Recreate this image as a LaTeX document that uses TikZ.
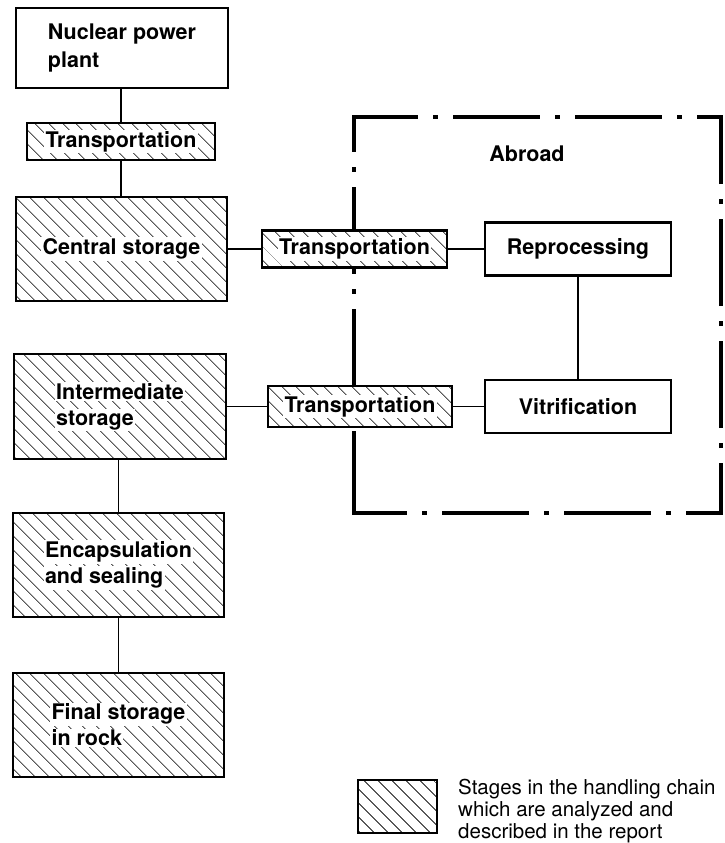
\documentclass[tikz,border=0pt]{standalone}
\usepackage{fontspec}
\usetikzlibrary{patterns.meta}
\newfontfamily\heros{TeX Gyre Heros}
\newcommand\whitetxt[1]{{\setlength{\fboxsep}{1.2pt}\colorbox{white}{#1}}}
\tikzset{
  boxbase/.style={draw, line width=2.2pt, inner sep=0pt,
    font=\heros\bfseries\fontsize{21.5}{26}\selectfont, align=left},
  plainbox/.style={boxbase, fill=white},
  hatchbox/.style={boxbase, preaction={fill=white},
    pattern={Lines[angle=-45,distance=10.5pt,line width=0.9pt]}},
  conn/.style={line width=1.3pt},
  abroadframe/.style={line width=4pt, line cap=butt,
    dash pattern=on 87pt off 15pt on 5pt off 15pt},
}
\begin{document}
\begin{tikzpicture}[x=1pt,y=-1pt]
\useasboundingbox (0,0) rectangle (724,843);
% frame
\coordinate (fTL) at (354,117);
\coordinate (fTR) at (721,117);
\coordinate (fBL) at (354,513);
\coordinate (fBR) at (721,513);
\draw[abroadframe, dash phase=21pt] ([xshift=-2pt]fTL) -- ([xshift=2pt]fTR);
\draw[abroadframe, dash phase=50pt] ([yshift=2pt]fTL) -- ([yshift=-2pt]fBL);
\draw[abroadframe, dash phase=32pt] ([xshift=-2pt]fBL) -- ([xshift=2pt]fBR);
\draw[abroadframe, dash phase=35pt] ([yshift=-2pt]fBR) -- ([yshift=2pt]fTR);
\node[font=\heros\bfseries\fontsize{21.5}{26}\selectfont] (abroad) at (527,154) {Abroad};
% boxes
\node[plainbox, minimum width=212pt, minimum height=80pt,
  font=\heros\bfseries\fontsize{21.5}{28}\selectfont] (npp) at (122,48) {Nuclear power\\plant};
\node[hatchbox, minimum width=188pt, minimum height=37pt] (t1) at (121,141.5) {\whitetxt{Transportation}};
\node[hatchbox, minimum width=211pt, minimum height=104pt] (cs) at (121.5,249) {\whitetxt{Central storage}};
\node[hatchbox, minimum width=185pt, minimum height=37pt] (t2) at (354.5,249) {\whitetxt{Transportation}};
\node[plainbox, minimum width=186pt, minimum height=53pt] (rep) at (578,249) {Reprocessing};
\node[plainbox, minimum width=186pt, minimum height=53pt] (vit) at (578,406.5) {Vitrification};
\node[hatchbox, minimum width=184pt, minimum height=41pt] (t3) at (360,406.5) {\whitetxt{Transportation}};
\node[hatchbox, minimum width=212pt, minimum height=105pt] (is) at (120,406.5) {\whitetxt{Intermediate}\\\whitetxt{storage}};
\node[hatchbox, minimum width=211pt, minimum height=104pt] (enc) at (118.5,565) {\whitetxt{Encapsulation}\\\whitetxt{and sealing}};
\node[hatchbox, minimum width=211pt, minimum height=104pt] (fin) at (118.5,725) {\whitetxt{Final storage}\\\whitetxt{in rock}};
% connectors
\draw[conn] (t1.north) -- (t1.north |- npp.south);
\draw[conn] (t1.south) -- (t1.south |- cs.north);
\draw[conn] (cs.east) -- (t2.west);
\draw[conn] (t2.east) -- (rep.west);
\draw[conn] (rep.south) -- (vit.north);
\draw[conn] (is.east) -- (t3.west);
\draw[conn] (t3.east) -- (vit.west);
\draw[conn] (enc.north) -- (enc.north |- is.south);
\draw[conn] (fin.north) -- (fin.north |- enc.south);
% legend
\node[hatchbox, minimum width=79pt, minimum height=53pt] (legbox) at (397.5,806.5) {};
\node[anchor=north west, inner sep=0pt, align=left,
  font=\heros\fontsize{20.5}{22}\selectfont] (legtext) at (458,779)
  {Stages in the handling chain\\which are analyzed and\\described in the report};
\end{tikzpicture}
\end{document}
